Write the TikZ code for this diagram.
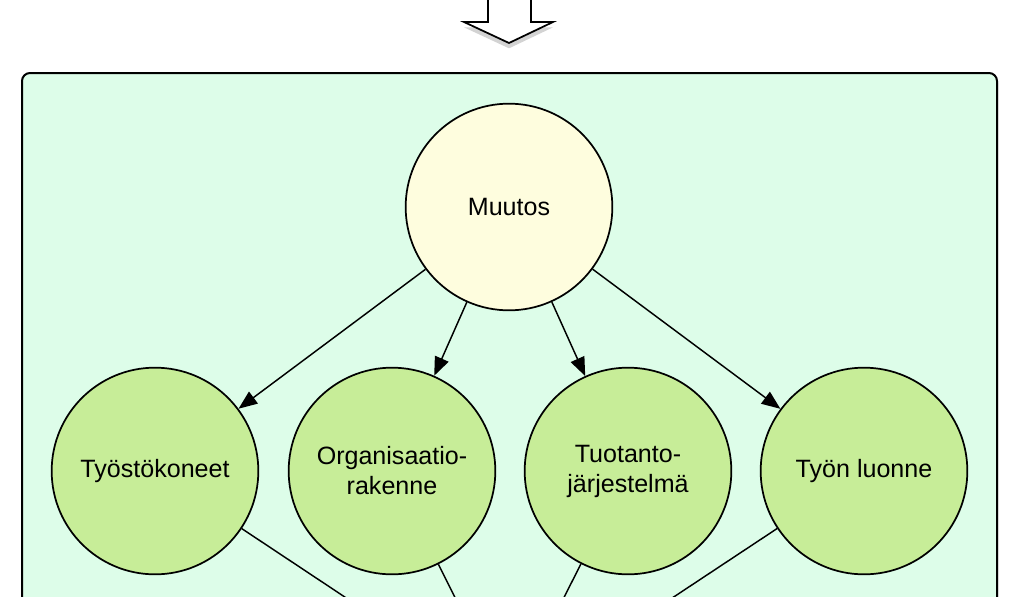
\documentclass[tikz,border=0pt]{standalone}
\usepackage{fontspec}
\setmainfont{Liberation Sans}
\usepackage{tikz}
\usetikzlibrary{arrows.meta, shadows, positioning}
\definecolor{laatikko}{RGB}{221,253,233}
\definecolor{keltainen}{RGB}{254,253,222}
\definecolor{vihrea}{RGB}{199,237,152}

\begin{document}
\begin{tikzpicture}[x=0.75pt, y=-0.75pt, >={Triangle[length=14pt, width=11pt]}]
    \tikzset{ympyra/.style={draw, circle, line width=1.3pt, minimum size=155pt, inner sep=0pt, align=center, font=\fontsize{18.8}{22.5}\selectfont},
        teema/.style={ympyra, fill=vihrea},
        nuoli/.style={->, line width=1.1pt}
    }
    \useasboundingbox (0,0) rectangle (1019,596);
    \clip (0,0) rectangle (1019,596);

    % iso nuoli ylhaalla
    \filldraw [fill=white, line width=1.3pt, drop shadow={opacity=0.35, shadow xshift=0pt, shadow yshift=-4pt}]
        (488,-20) -- (488,22) -- (464,22) -- (509,43) -- (553,22) -- (531,22) -- (531,-20) -- cycle;

    % tausta
    \filldraw [fill=laatikko, line width=1.5pt, rounded corners=6pt, drop shadow={opacity=0.25, shadow xshift=1pt, shadow yshift=-2pt}]
        (22,73) rectangle (997,720);

    \node (Muutos) [ympyra, fill=keltainen] at (509,207) {Muutos};
    \coordinate (Alas) at (509,706);

    \foreach \n / \x / \t in {Tyostokoneet/155/{Työstökoneet}, Organisaatio/392/{Organisaatio-\\rakenne},
        Tuotanto/628/{Tuotanto-\\järjestelmä}, Tyon/864/{Työn luonne}} {
        \node (\n) [teema] at (\x, 471) {\t};
        \draw [nuoli] (Muutos) -- (\n);
        \draw [line width=1.1pt] (\n) -- (Alas);
    }
\end{tikzpicture}
\end{document}
